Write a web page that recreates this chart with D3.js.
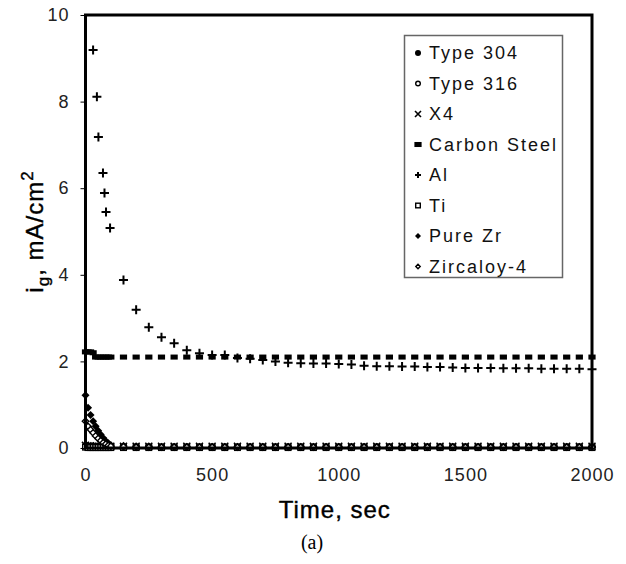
<!DOCTYPE html>
<html lang="en">
<meta charset="utf-8">
<head>
  <title>ig vs time</title>
  <script src="https://d3js.org/d3.v7.min.js"></script>
  <style>
    body { margin: 0; background: #fff; }
    .tick text { font-family: "Liberation Sans", Arial, sans-serif; font-size: 18px; fill: #222; letter-spacing: 1px; }
    .tick line { stroke: #000; }
    .ttl { font-family: "Liberation Sans", Arial, sans-serif; font-size: 24px; fill: #000; stroke: #000; stroke-width: 0.4px; letter-spacing: 1px; }
    .leg text { font-family: "Liberation Sans", Arial, sans-serif; font-size: 18px; fill: #111; letter-spacing: 2px; }
  </style>
</head>
<body>
<script>
var W = 626, H = 564;

// sample times (s): every 10 s up to 100, then every 50 s
var tDense = [0,10,20,30,40,50,60,70,80,90,100,150,200,250,300,350,400,450,500,550,600,650,700,750,800,850,900,950,1000,1050,1100,1150,1200,1250,1300,1350,1400,1450,1500,1550,1600,1650,1700,1750,1800,1850,1900,1950,2000];

var type304 = [0.04,0.04,0.03,0.03,0.03,0.03,0.03,0.03,0.03,0.03,0.03,0.03,0.03,0.03,0.03,0.03,0.03,0.03,0.03,0.03,0.03,0.03,0.03,0.03,0.03,0.03,0.03,0.03,0.03,0.03,0.03,0.03,0.03,0.03,0.03,0.03,0.03,0.03,0.03,0.03,0.03,0.03,0.03,0.03,0.03,0.03,0.03,0.03,0.03];
var type316 = [0.03,0.03,0.02,0.02,0.02,0.02,0.02,0.02,0.02,0.02,0.02,0.02,0.02,0.02,0.02,0.02,0.02,0.02,0.02,0.02,0.02,0.02,0.02,0.02,0.02,0.02,0.02,0.02,0.02,0.02,0.02,0.02,0.02,0.02,0.02,0.02,0.02,0.02,0.02,0.02,0.02,0.02,0.02,0.02,0.02,0.02,0.02,0.02,0.02];
var x4 = [0.06,0.05,0.05,0.04,0.04,0.04,0.04,0.04,0.04,0.04,0.04,0.04,0.04,0.04,0.04,0.04,0.04,0.04,0.04,0.04,0.04,0.04,0.04,0.04,0.04,0.04,0.04,0.04,0.04,0.04,0.04,0.04,0.04,0.04,0.04,0.04,0.04,0.04,0.04,0.04,0.04,0.04,0.04,0.04,0.04,0.04,0.04,0.04,0.04];
var carbon = [2.22,2.22,2.22,2.2,2.1,2.1,2.1,2.1,2.1,2.1,2.1,2.1,2.1,2.1,2.1,2.1,2.1,2.1,2.1,2.1,2.1,2.1,2.1,2.1,2.1,2.1,2.1,2.1,2.1,2.1,2.1,2.1,2.1,2.1,2.1,2.1,2.1,2.1,2.1,2.1,2.1,2.1,2.1,2.1,2.1,2.1,2.1,2.1,2.1];
var ti = [0.02,0.01,0.01,0.01,0.01,0.01,0.01,0.01,0.01,0.01,0.01,0.01,0.01,0.01,0.01,0.01,0.01,0.01,0.01,0.01,0.01,0.01,0.01,0.01,0.01,0.01,0.01,0.01,0.01,0.01,0.01,0.01,0.01,0.01,0.01,0.01,0.01,0.01,0.01,0.01,0.01,0.01,0.01,0.01,0.01,0.01,0.01,0.01,0.01];
var pureZr = [1.22,0.93,0.76,0.62,0.5,0.4,0.31,0.23,0.16,0.11,0.07,0.05,0.04,0.04,0.03,0.03,0.03,0.03,0.03,0.03,0.03,0.03,0.03,0.03,0.03,0.03,0.03,0.03,0.03,0.03,0.03,0.03,0.03,0.03,0.03,0.03,0.03,0.03,0.03,0.03,0.03,0.03,0.03,0.03,0.03,0.03,0.03,0.03,0.03];
var zry4 = [0.62,0.5,0.42,0.35,0.28,0.22,0.17,0.12,0.09,0.06,0.04,0.03,0.02,0.02,0.02,0.02,0.02,0.02,0.02,0.02,0.02,0.02,0.02,0.02,0.02,0.02,0.02,0.02,0.02,0.02,0.02,0.02,0.02,0.02,0.02,0.02,0.02,0.02,0.02,0.02,0.02,0.02,0.02,0.02,0.02,0.02,0.02,0.02,0.02];

// Al was logged on its own times
var tAl = [30,45,51,69,75,81,97,150,200,250,300,350,400,450,500,550,600,650,700,750,800,850,900,950,1000,1050,1100,1150,1200,1250,1300,1350,1400,1450,1500,1550,1600,1650,1700,1750,1800,1850,1900,1950,2000];
var al = [9.19,8.11,7.18,6.35,5.89,5.45,5.08,3.88,3.19,2.79,2.56,2.42,2.26,2.19,2.15,2.15,2.08,2.06,2.03,2.0,1.97,1.96,1.95,1.95,1.94,1.93,1.9,1.89,1.89,1.88,1.88,1.87,1.87,1.86,1.85,1.85,1.85,1.84,1.84,1.84,1.83,1.83,1.83,1.83,1.82];

var names = ["Type 304", "Type 316", "X4", "Carbon Steel", "Al", "Ti", "Pure Zr", "Zircaloy-4"];
var shapes = ["dot", "circle", "x", "rect", "plus", "square", "diamond", "odiamond"];
var yTicks = [0, 2, 4, 6, 8, 10];
var xTicks = [0, 500, 1000, 1500, 2000];

var series = [
  {t: tDense, v: type304},
  {t: tDense, v: type316},
  {t: tDense, v: x4},
  {t: tDense, v: carbon},
  {t: tAl, v: al},
  {t: tDense, v: ti},
  {t: tDense, v: pureZr},
  {t: tDense, v: zry4}
];

var x = d3.scaleLinear().domain([0, 2000]).range([85.5, 592]);
var y = d3.scaleLinear().domain([0, 10]).range([448, 15]);

var svg = d3.select("body").append("svg")
  .attr("width", W)
  .attr("height", H);

// draws one marker of a given kind at 0,0
function marker(g, kind, s) {
  var h = s / 2;
  if (kind == "dot") {
    g.append("circle").attr("r", h).attr("fill", "#000");
  } else if (kind == "circle") {
    g.append("circle").attr("r", h - 0.7).attr("fill", "#fff").attr("stroke", "#000").attr("stroke-width", 1.4);
  } else if (kind == "x") {
    g.append("path").attr("d", "M" + (-h) + "," + (-h) + "L" + h + "," + h + "M" + (-h) + "," + h + "L" + h + "," + (-h))
      .attr("stroke", "#000").attr("stroke-width", 1.6);
  } else if (kind == "rect") {
    g.append("rect").attr("x", -s * 0.6).attr("y", -s * 0.42).attr("width", s * 1.2).attr("height", s * 0.84).attr("fill", "#000");
  } else if (kind == "plus") {
    g.append("path").attr("d", "M" + (-h) + ",0L" + h + ",0M0," + (-h) + "L0," + h)
      .attr("stroke", "#000").attr("stroke-width", 2);
  } else if (kind == "square") {
    g.append("rect").attr("x", -h + 0.7).attr("y", -h + 0.7).attr("width", s - 1.4).attr("height", s - 1.4)
      .attr("fill", "#fff").attr("stroke", "#000").attr("stroke-width", 1.4);
  } else if (kind == "diamond") {
    g.append("path").attr("d", "M0," + (-h) + "L" + h + ",0L0," + h + "L" + (-h) + ",0Z").attr("fill", "#000");
  } else if (kind == "odiamond") {
    g.append("path").attr("d", "M0," + (-h + 0.8) + "L" + (h - 0.8) + ",0L0," + (h - 0.8) + "L" + (-h + 0.8) + ",0Z")
      .attr("fill", "#fff").attr("stroke", "#000").attr("stroke-width", 1.4);
  }
}

var plot = svg.append("g");
var sizes = [7, 7, 7, 6, 9, 7, 8, 8];

series.forEach(function(s, i) {
  var pts = s.t.map(function(t, j) { return [t, s.v[j]]; });
  plot.selectAll(".p" + i)
    .data(pts)
    .enter().append("g")
    .attr("class", "p" + i)
    .attr("transform", function(d) { return "translate(" + x(d[0]) + "," + y(d[1]) + ")"; })
    .each(function() { marker(d3.select(this), shapes[i], sizes[i]); });
});

// axes
svg.append("g")
  .attr("transform", "translate(" + x(0) + ",0)")
  .call(d3.axisLeft(y).tickValues(yTicks).tickSize(5).tickPadding(11))
  .call(function(g) { g.select(".domain").remove(); });

svg.append("g")
  .attr("transform", "translate(0," + y(0) + ")")
  .call(d3.axisBottom(x).tickValues(xTicks).tickFormat(d3.format("d")).tickSize(0).tickPadding(20))
  .call(function(g) { g.select(".domain").remove(); });

// heavy frame around the plot
svg.append("rect")
  .attr("x", x(0)).attr("y", y(10))
  .attr("width", x(2000) - x(0)).attr("height", y(0) - y(10))
  .attr("fill", "none").attr("stroke", "#000").attr("stroke-width", 3);

// titles
svg.append("text").attr("class", "ttl")
  .attr("x", (x(0) + x(2000)) / 2 - 4).attr("y", 518)
  .attr("text-anchor", "middle")
  .text("Time, sec");

var yt = svg.append("text").attr("class", "ttl")
  .attr("transform", "translate(43," + ((y(0) + y(10)) / 2) + ") rotate(-90)")
  .attr("text-anchor", "middle");
yt.append("tspan").text("i");
yt.append("tspan").attr("dy", 6).style("font-size", "17px").text("g");
yt.append("tspan").attr("dy", -6).text(", mA/cm");
yt.append("tspan").attr("dy", -10).style("font-size", "17px").text("2");

svg.append("text")
  .attr("x", 312).attr("y", 549)
  .attr("text-anchor", "middle")
  .style("font-family", "'Liberation Serif', 'Times New Roman', serif")
  .style("font-size", "20px")
  .text("(a)");

// legend
var legend = svg.append("g").attr("class", "leg");
legend.append("rect")
  .attr("x", 404.5).attr("y", 35.5).attr("width", 158).attr("height", 242)
  .attr("fill", "#fff").attr("stroke", "#666").attr("stroke-width", 1.5);

var item = legend.selectAll(".item")
  .data(names)
  .enter().append("g")
  .attr("class", "item")
  .attr("transform", function(d, i) { return "translate(418," + (53 + i * 30.5) + ")"; });

item.each(function(d, i) { marker(d3.select(this), shapes[i], 6); });

item.append("text")
  .attr("x", 11)
  .attr("dy", "0.36em")
  .text(function(d) { return d; });
</script>
</body>
</html>
